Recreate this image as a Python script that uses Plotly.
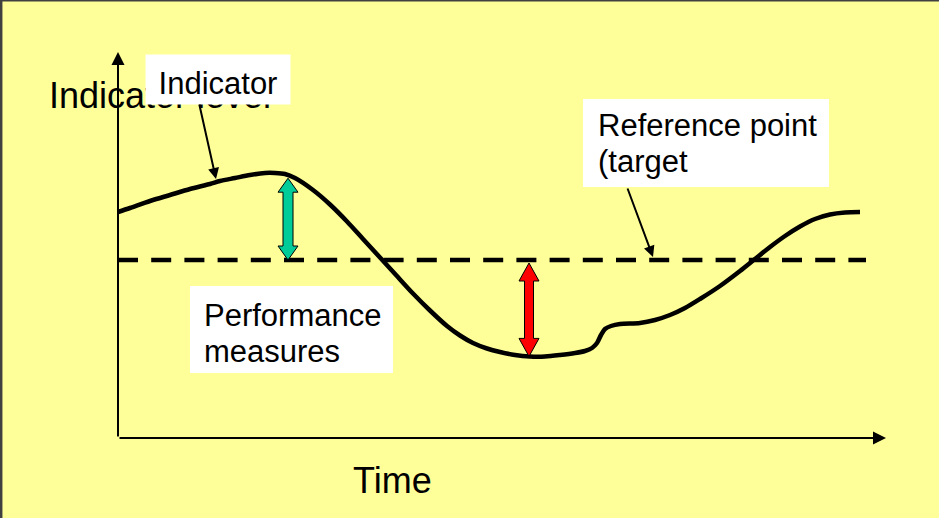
import plotly.graph_objects as go

# ---- data (time units / level units) ----
time = [0, 12, 32, 52, 72, 92, 102, 117, 132, 147, 157, 167, 177, 195, 212, 229, 245, 262,
        278, 295, 312, 329, 342, 355, 369, 382, 397, 412, 427, 442, 457, 467, 474, 479, 483,
        487, 493, 502, 522, 537, 552, 567, 582, 602, 622, 637, 652, 667, 682, 697, 712, 727, 742]
indicator = [226, 230, 237, 243, 249, 254, 257, 260, 263, 265, 265, 264, 260, 248, 233.5, 216.5,
             199, 180.5, 163, 144.5, 127.5, 112, 102.5, 95, 89.5, 86, 83, 81.5, 81.5, 83, 85, 87,
             90, 95, 103, 109, 112, 114, 115, 118, 123, 130, 139, 152, 167, 179, 191, 202, 211.5,
             219, 223.5, 225.5, 226]
target_level = 178
target_span = [0, 748]
gap_times = [170, 411]          # where performance is measured
gap_colors = ["#00CC99", "#FF0000"]
x_axis_end = 768
y_axis_end = 386

labels = {
    "ylabel": "Indicator level",
    "xlabel": "Time",
    "indicator": "Indicator",
    "reference": ["Reference point", "(target"],
    "performance": ["Performance", "measures"],
}

W, H = 939, 518
X0, Y0 = 118, 438  # pixel position of origin (layout)


def P(xp, yp):
    """pixel position -> data coordinates (1 unit = 1 px)"""
    return xp - X0, Y0 - yp


def interp(t):
    for i in range(len(time) - 1):
        if time[i] <= t <= time[i + 1]:
            f = (t - time[i]) / (time[i + 1] - time[i])
            return indicator[i] + f * (indicator[i + 1] - indicator[i])
    return indicator[-1]


fig = go.Figure()

# indicator curve
fig.add_trace(go.Scatter(x=time, y=indicator, mode="lines",
                         line=dict(color="black", width=4.5, shape="spline", smoothing=0.8),
                         hoverinfo="skip"))
# target dashed line
fig.add_trace(go.Scatter(x=target_span, y=[target_level, target_level], mode="lines",
                         line=dict(color="black", width=4.5, dash="20px,13.2px"),
                         hoverinfo="skip"))

# double-headed block arrows for performance gaps
arrow_style = [dict(sw=5, hw=10, hl=14), dict(sw=4.5, hw=10, hl=18)]
for t, c, st in zip(gap_times, gap_colors, arrow_style):
    v = interp(t)
    lo, hi = min(v, target_level), max(v, target_level)
    hi -= 3
    sw, hw, hl = st["sw"], st["hw"], st["hl"]
    xs = [t, t + hw, t + sw, t + sw, t + hw, t, t - hw, t - sw, t - sw, t - hw, t]
    ys = [hi, hi - hl, hi - hl, lo + hl, lo + hl, lo, lo + hl, lo + hl, hi - hl, hi - hl, hi]
    fig.add_trace(go.Scatter(x=xs, y=ys, mode="lines", fill="toself", fillcolor=c,
                             line=dict(color="black", width=1), hoverinfo="skip"))

font_big = dict(family="Liberation Sans, Arial, sans-serif", size=36, color="black")
font_mid = dict(family="Liberation Sans, Arial, sans-serif", size=31, color="black")

shapes = []
# white boxes
for (l, t_, r, b) in [(583, 99, 829, 187), (190, 286, 393, 373)]:
    x0, y0 = P(l, b)
    x1, y1 = P(r, t_)
    shapes.append(dict(type="rect", xref="x", yref="y", x0=x0, y0=y0, x1=x1, y1=y1,
                       fillcolor="white", line=dict(width=0), layer="above"))
# slide border (left and top)
shapes.append(dict(type="line", xref="paper", yref="paper", x0=0.001, x1=0.001, y0=0, y1=1,
                   line=dict(color="#404040", width=3)))
shapes.append(dict(type="line", xref="paper", yref="paper", x0=0, x1=1, y0=0.999, y1=0.999,
                   line=dict(color="#404040", width=2)))

ann = []


def text_ann(txt, xp, base, font, anchor="left"):
    x, y = P(xp, base - 0.36 * font["size"])
    ann.append(dict(text=txt, x=x, y=y, xref="x", yref="y", xanchor=anchor, yanchor="middle",
                    showarrow=False, font=font, borderpad=0))


text_ann(labels["ylabel"], 48, 108, font_big)
# Indicator box (covers part of the y label)
bx, by = P(145, 54)
ann.append(dict(text=labels["indicator"], x=bx, y=by, xref="x", yref="y", xanchor="left",
                yanchor="top", width=137, height=42, borderpad=3.5, bgcolor="white",
                align="center", valign="bottom", showarrow=False, font=font_mid))
text_ann(labels["reference"][0], 597, 137, font_mid)
text_ann(labels["reference"][1], 597, 173, font_mid)
text_ann(labels["performance"][0], 203, 327, font_mid)
text_ann(labels["performance"][1], 203, 363, font_mid)
text_ann(labels["xlabel"], 352, 493, font_big)


def arrow(head, tail, width=2, size=1.2):
    hx, hy = P(*head)
    tx, ty = P(*tail)
    ann.append(dict(text="", x=hx, y=hy, ax=tx, ay=ty, xref="x", yref="y", axref="x", ayref="y",
                    showarrow=True, arrowhead=2, arrowsize=size, arrowwidth=width,
                    arrowcolor="black", standoff=0, startstandoff=0))


# axes
ann.append(dict(text="", x=0, y=y_axis_end, ax=0, ay=0, xref="x", yref="y", axref="x", ayref="y",
                showarrow=True, arrowhead=2, arrowsize=1.3, arrowwidth=2, arrowcolor="black",
                standoff=0))
ann.append(dict(text="", x=x_axis_end, y=0, ax=0, ay=0, xref="x", yref="y", axref="x", ayref="y",
                showarrow=True, arrowhead=2, arrowsize=1.3, arrowwidth=2, arrowcolor="black",
                standoff=0))
# pointers
arrow((216, 179), (199, 103), width=2, size=1.1)
arrow((653, 257), (627, 187), width=2, size=1.1)

fig.update_layout(
    width=W, height=H, margin=dict(l=0, r=0, t=0, b=0),
    paper_bgcolor="#FFFF99", plot_bgcolor="#FFFF99",
    showlegend=False, shapes=shapes, annotations=ann,
    xaxis=dict(range=[-X0, W - X0], visible=False, fixedrange=True),
    yaxis=dict(range=[Y0 - H, Y0], visible=False, fixedrange=True),
)

fig.write_html("out.html", config={"displayModeBar": False},
               post_script="document.body.style.margin='0';document.body.style.overflow='hidden';")
